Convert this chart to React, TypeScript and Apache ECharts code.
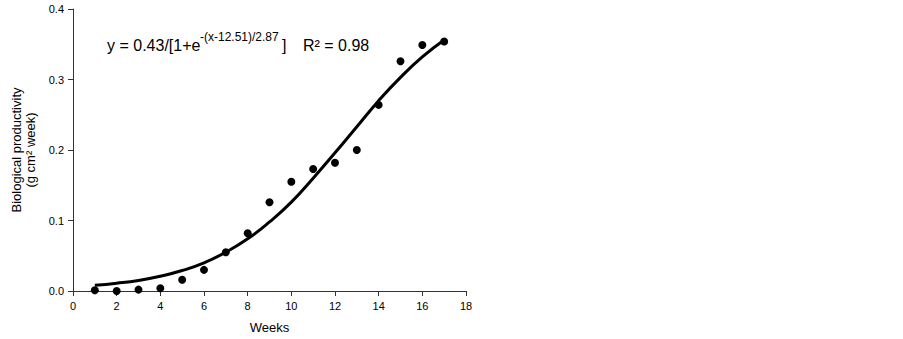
import React, { useEffect, useRef } from "react";
import * as echarts from "echarts";

const weeks = [1, 2, 3, 4, 5, 6, 7, 8, 9, 10, 11, 12, 13, 14, 15, 16, 17];
const observed = [0.001, 0.0, 0.002, 0.004, 0.016, 0.03, 0.055, 0.082, 0.126, 0.155, 0.173, 0.182, 0.2, 0.264, 0.326, 0.349, 0.354];
const fitted = [0.008, 0.011, 0.015, 0.021, 0.029, 0.04, 0.055, 0.074, 0.098, 0.126, 0.16, 0.196, 0.233, 0.27, 0.303, 0.332, 0.356];
const xTicks = { min: 0, max: 18, interval: 2 };
const yTicks = { min: 0, max: 0.4, interval: 0.1 };

const FONT = "'Liberation Sans', Arial, sans-serif";

export default function App() {
  const ref = useRef<HTMLDivElement>(null);
  useEffect(() => {
    if (!ref.current) return;
    const chart = echarts.init(ref.current, undefined, { renderer: "svg" });
    chart.setOption({
      animation: false,
      textStyle: { fontFamily: FONT },
      grid: { left: 73, right: 437, top: 9, bottom: 48 },
      xAxis: {
        type: "value",
        min: xTicks.min,
        max: xTicks.max,
        interval: xTicks.interval,
        name: "Weeks",
        nameLocation: "middle",
        nameGap: 30,
        nameTextStyle: { fontSize: 13, color: "#000", fontFamily: FONT },
        axisLine: { onZero: false, lineStyle: { color: "#333", width: 1 } },
        axisTick: { show: true, inside: false, length: 5, lineStyle: { color: "#333" } },
        axisLabel: { fontSize: 11, color: "#000", margin: 9, fontFamily: FONT },
        splitLine: { show: false },
      },
      yAxis: {
        type: "value",
        min: yTicks.min,
        max: yTicks.max,
        interval: yTicks.interval,
        name: "Biological productivity\n(g cm² week)",
        nameLocation: "middle",
        nameGap: 36,
        nameTextStyle: { fontSize: 13, color: "#000", lineHeight: 14, fontFamily: FONT },
        axisLine: { show: true, lineStyle: { color: "#333", width: 1 } },
        axisTick: { show: true, inside: false, length: 5, lineStyle: { color: "#333" } },
        axisLabel: { fontSize: 11, color: "#000", margin: 9, fontFamily: FONT, formatter: (v: number) => v.toFixed(1) },
        splitLine: { show: false },
      },
      graphic: [
        { type: "text", left: 107, top: 37, style: { text: "y = 0.43/[1+e", font: `16px ${FONT}`, fill: "#000" } },
        { type: "text", left: 200, top: 31, style: { text: "-(x-12.51)/2.87", font: `12px ${FONT}`, fill: "#000" } },
        { type: "text", left: 282, top: 37, style: { text: "]", font: `16px ${FONT}`, fill: "#000" } },
        { type: "text", left: 303, top: 37, style: { text: "R² = 0.98", font: `16px ${FONT}`, fill: "#000" } },
      ],
      series: [
        {
          type: "line",
          data: weeks.map((w, i) => [w, fitted[i]]),
          smooth: true,
          showSymbol: false,
          lineStyle: { color: "#000", width: 3 },
          z: 2,
        },
        {
          type: "scatter",
          data: weeks.map((w, i) => [w, observed[i]]),
          symbolSize: 8,
          itemStyle: { color: "#000", opacity: 1 },
          z: 3,
        },
      ],
    });
    return () => chart.dispose();
  }, []);
  return <div ref={ref} style={{ width: 903, height: 339, position: "absolute", left: 0, top: 0, background: "#fff" }} />;
}
